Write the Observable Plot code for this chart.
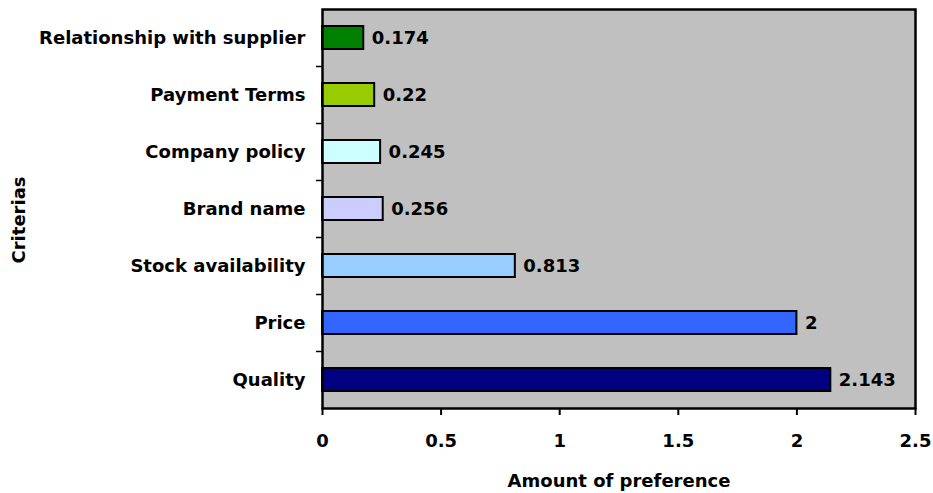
<!DOCTYPE html>
<html>
<head>
<meta charset="utf-8">
<script src="https://cdn.jsdelivr.net/npm/d3@7"></script>
<script src="https://cdn.jsdelivr.net/npm/@observablehq/plot@0.6"></script>
<style>
  html, body { margin: 0; padding: 0; background: #fff; }
  #chart svg { display: block; }
</style>
</head>
<body>
<div id="chart"></div>
<script>
// Criteria ranked by amount of preference (top to bottom as drawn)
const criteria = [
  "Relationship with supplier",
  "Payment Terms",
  "Company policy",
  "Brand name",
  "Stock availability",
  "Price",
  "Quality"
];
const preference = [0.174, 0.22, 0.245, 0.256, 0.813, 2, 2.143];
const barColors = ["#008000", "#99cc00", "#ccffff", "#ccccff", "#99ccff", "#3366ff", "#000080"];
const xTicks = [0, 0.5, 1, 1.5, 2, 2.5];
const xTitle = "Amount of preference";
const yTitle = "Criterias";

const rows = criteria.map((c, i) => ({criterion: c, value: preference[i], color: barColors[i]}));

const font = "'DejaVu Sans', Verdana, sans-serif";
const fontSize = 18;
const plotTop = 9, plotBottom = 408;
const step = (plotBottom - plotTop) / criteria.length;

const chart = Plot.plot({
  width: 933,
  height: 493,
  marginLeft: 322,
  marginRight: 18,
  marginTop: plotTop,
  marginBottom: 493 - plotBottom,
  style: {fontFamily: font, fontWeight: "bold", fontSize: fontSize + "px", color: "#000", background: "#fff"},
  x: {domain: [0, 2.5], ticks: xTicks, tickFormat: d => String(d), label: null},
  y: {domain: criteria, paddingInner: 0.6, paddingOuter: 0.3, label: null},
  marks: [
    Plot.frame({fill: "#c0c0c0", stroke: "none"}),
    Plot.barX(rows, {
      x: "value",
      y: "criterion",
      fill: "color",
      stroke: "#000",
      strokeWidth: 2
    }),
    Plot.text(rows, {
      x: "value",
      y: "criterion",
      text: d => String(d.value),
      textAnchor: "start",
      dx: 8,
      fontSize,
      fontWeight: "bold",
      fill: "#000"
    }),
    Plot.frame({stroke: "#000", strokeWidth: 2.5}),
    Plot.axisX({
      ticks: xTicks,
      tickFormat: d => String(d),
      tickSize: 7,
      tickPadding: 19,
      strokeWidth: 2,
      label: null,
      fontSize
    }),
    // Tick marks on the category axis sit between the bands
    Plot.axisY(criteria.slice(1), {
      text: null,
      tickSize: 6,
      dy: -step / 2,
      strokeWidth: 1.5,
      label: null
    }),
    Plot.axisY({tickSize: 0, tickPadding: 17, label: null, fontSize}),
    // Axis titles
    Plot.text([xTitle], {
      frameAnchor: "bottom",
      textAnchor: "middle",
      lineAnchor: "middle",
      dy: 73,
      text: d => d,
      fontSize,
      fontWeight: "bold"
    }),
    Plot.text([yTitle], {
      frameAnchor: "left",
      textAnchor: "middle",
      lineAnchor: "middle",
      dx: -303,
      dy: 11,
      rotate: -90,
      text: d => d,
      fontSize,
      fontWeight: "bold"
    })
  ]
});

document.getElementById("chart").appendChild(chart);
</script>
</body>
</html>
